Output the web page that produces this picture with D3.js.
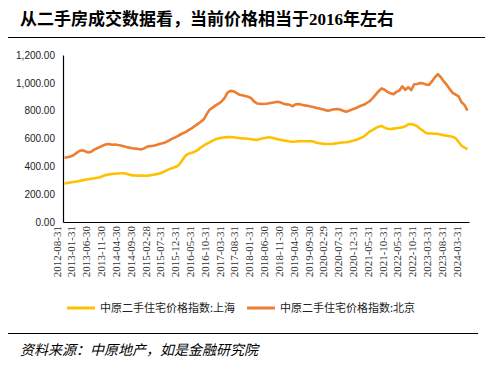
<!DOCTYPE html>
<html>
<head>
<meta charset="utf-8">
<script src="https://cdn.jsdelivr.net/npm/d3@7"></script>
<style>
  body { margin: 0; background: #fff; }
  svg { display: block; }
</style>
</head>
<body>
<div class="chart"></div>
<script>
// Centaline second-hand housing price index, Shanghai vs Beijing

var titleText = "从二手房成交数据看，当前价格相当于2016年左右";
var sourceText = "资料来源：中原地产，如是金融研究院";
var seriesNames = ["中原二手住宅价格指数:上海", "中原二手住宅价格指数:北京"];

// months absent from the source table
var missingMonths = ["2022-01", "2022-02", "2024-01", "2024-02"];

var tickLabels = [
  "2012-08-31", "2013-01-31", "2013-06-30", "2013-11-30", "2014-04-30", "2014-09-30",
  "2015-02-28", "2015-07-31", "2015-12-31", "2016-05-31", "2016-10-31", "2017-03-31",
  "2017-08-31", "2018-01-31", "2018-06-30", "2018-11-30", "2019-04-30", "2019-09-30",
  "2020-02-29", "2020-07-31", "2020-12-31", "2021-05-31", "2021-10-31", "2022-05-31",
  "2022-10-31", "2023-03-31", "2023-08-31", "2024-03-31"
];

var shanghai = [
  276, 280, 284, 288, 291, 295, 299, 303, 307, 311,
  314, 318, 322, 330, 337, 342, 345, 347, 349, 350,
  350, 346, 340, 335, 334, 333, 333, 332, 333, 336,
  340, 344, 348, 356, 366, 376, 385, 392, 400, 420,
  452, 480, 492, 497, 505, 518, 535, 550, 562, 572,
  585, 594, 601, 605, 608, 610, 611, 609, 606, 603,
  601, 600, 598, 595, 592, 590, 596, 602, 606, 609,
  605, 600, 595, 590, 586, 582, 578, 577, 578, 580,
  581, 580, 580, 581, 578, 570, 566, 563, 561, 560,
  561, 563, 566, 569, 571, 573, 577, 582, 588, 594,
  604, 614, 632, 650, 662, 675, 685, 690, 678, 670,
  668, 671, 674, 677, 680, 688, 702, 703, 698, 688,
  670, 656, 640, 637, 636, 634, 633, 628, 624, 620,
  616, 612, 602, 575, 548, 535, 523
];

var beijing = [
  462, 465, 470, 480, 495, 510, 515, 508, 500, 505,
  520, 530, 540, 550, 558, 560, 555, 557, 553, 550,
  545, 538, 534, 530, 527, 524, 522, 530, 542, 545,
  548, 553, 561, 566, 572, 582, 595, 605, 615, 627,
  638, 648, 662, 675, 690, 705, 720, 738, 775, 808,
  822, 838, 850, 866, 890, 930, 942, 940, 928, 915,
  910, 905, 900, 890, 865, 852, 850, 848, 850, 853,
  857, 860, 864, 858, 850, 845, 842, 832, 845, 848,
  842, 838, 835, 830, 826, 820, 816, 810, 804, 800,
  805, 810, 812, 808, 800, 793, 800, 808, 815, 825,
  835, 842, 855, 868, 890, 915, 940, 960, 950, 935,
  925, 918, 935, 945, 975, 950, 968, 948, 990, 992,
  998, 996, 988, 985, 1010, 1040, 1062, 1040, 1010, 985,
  955, 928, 915, 902, 860, 840, 800
];

var yTicks = [0, 200, 400, 600, 800, 1000, 1200];
var colors = ["#FFC000", "#ED7D31"];

// month-end category labels, skipping missing months
var fmtMonth = d3.timeFormat("%Y-%m");
var fmtDay = d3.timeFormat("%Y-%m-%d");
var dates = d3.timeMonth.range(new Date(2012, 7, 1), new Date(2024, 4, 1))
  .filter(d => missingMonths.indexOf(fmtMonth(d)) < 0)
  .map(d => fmtDay(d3.timeDay.offset(d3.timeMonth.offset(d, 1), -1)));

var svgWidth = 501;
var svgHeight = 371;

var margin = { top: 55, right: 32, bottom: 149, left: 63 };
var width = svgWidth - margin.left - margin.right;
var height = svgHeight - margin.top - margin.bottom;

var svg = d3.select(".chart")
  .append("svg")
  .attr("width", svgWidth)
  .attr("height", svgHeight);

// title and rule
svg.append("text")
  .attr("x", 20)
  .attr("y", 25)
  .attr("font-family", "'Liberation Serif', 'Noto Sans CJK SC', serif")
  .attr("font-weight", "bold")
  .attr("font-size", 17)
  .attr("fill", "#000")
  .text(titleText);

svg.append("line")
  .attr("x1", 8).attr("x2", 485)
  .attr("y1", 37.5).attr("y2", 37.5)
  .attr("stroke", "#000").attr("stroke-width", 1);

var chartGroup = svg.append("g")
  .attr("transform", `translate(${margin.left}, ${margin.top})`);

var xScale = d3.scaleBand()
  .domain(dates)
  .range([0, width]);

var yScale = d3.scaleLinear()
  .domain([0, 1200])
  .range([height, 0]);

var bottomAxis = d3.axisBottom(xScale)
  .tickValues(tickLabels)
  .tickSize(0)
  .tickPadding(4);

var leftAxis = d3.axisLeft(yScale)
  .tickValues(yTicks)
  .tickSize(0)
  .tickPadding(8)
  .tickFormat(d3.format(",.2f"));

var yAxisG = chartGroup.append("g").call(leftAxis);
yAxisG.select(".domain").attr("stroke", "#000").attr("stroke-width", 1.2);
yAxisG.selectAll("text")
  .attr("font-family", "'Liberation Sans', Arial, sans-serif")
  .attr("font-size", 10)
  .attr("fill", "#222");

var xAxisG = chartGroup.append("g")
  .attr("transform", `translate(0, ${height})`)
  .call(bottomAxis);
xAxisG.select(".domain").attr("stroke", "#000").attr("stroke-width", 1.2);
xAxisG.selectAll("text")
  .attr("font-family", "'Liberation Serif', 'Times New Roman', serif")
  .attr("font-size", 11)
  .attr("fill", "#333")
  .attr("text-anchor", "end")
  .attr("dx", "-4")
  .attr("dy", "-0.35em")
  .attr("transform", "rotate(-90)")
  .attr("x", 0)
  .attr("y", 0);

// lines
var line = d3.line()
  .x((d, i) => xScale(dates[i]) + xScale.bandwidth() / 2)
  .y(d => yScale(d));

[shanghai, beijing].forEach(function(series, k) {
  chartGroup.append("path")
    .datum(series)
    .attr("fill", "none")
    .attr("stroke", colors[k])
    .attr("stroke-width", 2.6)
    .attr("stroke-linejoin", "round")
    .attr("d", line);
});

// legend
var legendX = [67, 247];
seriesNames.forEach(function(name, k) {
  var g = svg.append("g").attr("transform", `translate(${legendX[k]}, 308)`);
  g.append("line")
    .attr("x1", 0).attr("x2", 28)
    .attr("y1", 0).attr("y2", 0)
    .attr("stroke", colors[k])
    .attr("stroke-width", 3);
  g.append("text")
    .attr("x", 33)
    .attr("y", 4)
    .attr("font-family", "'Noto Sans CJK SC', sans-serif")
    .attr("font-size", 11)
    .attr("fill", "#222")
    .text(name);
});

// source
svg.append("line")
  .attr("x1", 8).attr("x2", 478)
  .attr("y1", 333.5).attr("y2", 333.5)
  .attr("stroke", "#000").attr("stroke-width", 1);

svg.append("text")
  .attr("x", 20)
  .attr("y", 355)
  .attr("font-family", "'Noto Sans CJK SC', sans-serif")
  .attr("font-style", "italic")
  .attr("font-size", 14)
  .attr("fill", "#000")
  .text(sourceText);
</script>
</body>
</html>
